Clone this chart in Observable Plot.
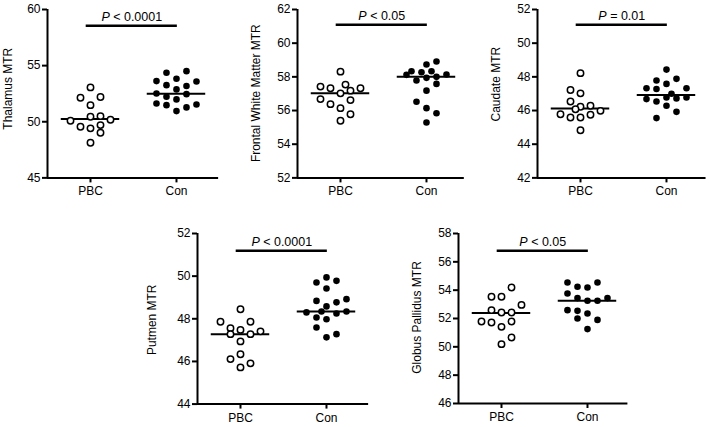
<!DOCTYPE html>
<html><head><meta charset="utf-8">
<script src="https://cdn.jsdelivr.net/npm/d3@7"></script>
<script src="https://cdn.jsdelivr.net/npm/@observablehq/plot@0.6"></script>
<style>
body{margin:0;background:#fff;}
#chart{position:relative;width:709px;height:427px;overflow:hidden;background:#fff;}
#chart svg{position:absolute;}
</style></head><body><div id="chart"></div>
<script>
// ---- data: [column offset within the swarm, MTR value] ----
const groups = ["PBC", "Con"];

const thalamusPBC = [[0,53.06],[-1,52.14],[1,52.2],[0,51.48],[-2,50.09],[0,50.45],[1,50.5],[2,50.18],[-1,49.55],[0,49.41],[1,49.7],[1,49.02],[0,48.13]];
const thalamusCon = [[-1,54.36],[1,54.51],[-2,53.62],[0,53.83],[2,53.59],[-1,53.26],[1,53.18],[0,52.88],[-2,52.52],[1,52.46],[-1,52.23],[0,51.99],[-2,51.63],[-1,51.48],[1,51.28],[2,51.54],[0,50.95]];
const thalamusMedians = [50.24, 52.49];

const frontalPBC = [[0,58.31],[-2,57.42],[-1,57.32],[0.5,57.54],[2,57.32],[0,57.02],[1,57.18],[-2,56.68],[-1,56.38],[1,56.62],[0,56.14],[1,55.78],[0,55.39]];
const frontalCon = [[0,58.73],[1,58.91],[-2,58.12],[-1.5,58.33],[-0.5,58.27],[0.5,58.33],[2,58.14],[1,58.0],[-1,57.78],[0,57.94],[1,57.58],[0,57.18],[-1,56.52],[0,56.14],[1,55.84],[0,55.29]];
const frontalMedians = [57.02, 58.0];

const caudatePBC = [[0,48.22],[-1,47.22],[0,47.02],[-1,46.54],[0,46.22],[1,46.28],[-0.5,46.08],[-2,45.78],[-1,45.59],[0,45.59],[1,45.75],[2,45.98],[0,44.83]];
const caudateCon = [[0,48.43],[-1,47.78],[1,47.88],[-2,47.32],[-1,47.28],[0,47.58],[2,47.32],[-2,46.68],[-1,46.54],[0,46.78],[0.5,47.0],[1,46.72],[2,46.78],[0,46.28],[1,45.92],[-1,45.55]];
const caudateMedians = [46.12, 46.92];

const putamenPBC = [[0,48.45],[-2,47.86],[1,47.86],[-1,47.56],[0,47.48],[2,47.41],[-1,47.28],[1,47.28],[0,46.94],[0,46.34],[-1,46.11],[1,45.91],[0,45.72]];
const putamenCon = [[0,49.94],[-1,49.7],[1,49.78],[0,49.42],[-1,48.84],[1,48.77],[2,48.92],[0,48.58],[-2,48.3],[-0.5,48.34],[1,48.25],[2,48.34],[-1,48.06],[0,47.98],[-1,47.59],[0,47.13],[1,47.28]];
const putamenMedians = [47.28, 48.34];

const globusPBC = [[1,54.19],[-1,53.53],[0,53.53],[2,52.96],[-1,52.59],[0,52.42],[1,52.42],[-2,51.79],[-1,51.72],[1,51.79],[0,51.41],[1,50.66],[0,50.19]];
const globusCon = [[-2,54.54],[-1,54.24],[0,54.19],[1,54.54],[-2,53.76],[-1,53.44],[0,53.25],[1,53.25],[2,53.44],[-2,52.59],[-1,52.54],[0,52.35],[-1,52.0],[1,51.9],[0,51.25]];
const globusMedians = [52.38, 53.25];

const yLabels = ["Thalamus MTR", "Frontal White Matter MTR", "Caudate MTR", "Putmen MTR", "Globus Pallidus MTR"];
const pTexts = ["P < 0.0001", "P < 0.05", "P = 0.01", "P < 0.0001", "P < 0.05"];
const bracketValues = [58.55, 61.1, 51.1, 51.19, 56.78];
const yDomains = [[45,60],[52,62],[42,52],[44,52],[46,58]];
const yTicks = [[45,50,55,60],[52,54,56,58,60,62],[42,44,46,48,50,52],[44,46,48,50,52],[46,48,50,52,54,56,58]];

// ---- layout (pixels) ----
const layout = [
  {axisX: 47,    top: 9.3,   bottom: 177.7, xmax: 1.49, labelDx: 39.7, labelDy: -5},
  {axisX: 296.7, top: 9.3,   bottom: 177.7, xmax: 1.44, labelDx: 41,   labelDy: -0.5},
  {axisX: 536.7, top: 9.3,   bottom: 177.7, xmax: 1.46, labelDx: 41.7, labelDy: -9.5},
  {axisX: 196.8, top: 232.7, bottom: 403.3, xmax: 1.49, labelDx: 45.8, labelDy: 1},
  {axisX: 458.3, top: 232.7, bottom: 402.7, xmax: 1.47, labelDx: 41,   labelDy: -1}
];
const datasets = [
  [thalamusPBC, thalamusCon, thalamusMedians],
  [frontalPBC, frontalCon, frontalMedians],
  [caudatePBC, caudateCon, caudateMedians],
  [putamenPBC, putamenCon, putamenMedians],
  [globusPBC, globusCon, globusMedians]
];

const unitPx = 86;          // px per category
const step = 10 / unitPx;   // column spacing within a swarm
const mL = 58, mR = 4, mT = 12, mB = 30;
const font = "'Liberation Sans', Arial, Helvetica, sans-serif";
const chart = document.getElementById("chart");

layout.forEach((L, k) => {
  const [pbc, con, med] = datasets[k];
  const dom = yDomains[k];
  const plotW = (L.xmax + 0.5) * unitPx;
  const plotH = L.bottom - L.top;
  const svg = Plot.plot({
    width: mL + plotW + mR,
    height: mT + plotH + mB,
    marginLeft: mL, marginRight: mR, marginTop: mT, marginBottom: mB,
    style: {fontFamily: font, fontSize: "12px", color: "#000", background: "transparent", overflow: "visible"},
    x: {domain: [-0.5, L.xmax]},
    y: {domain: dom},
    marks: [
      Plot.axisY({ticks: yTicks[k], tickSize: 5, tickPadding: 2, strokeWidth: 2, fontSize: 12, label: null}),
      Plot.axisX({ticks: [0, 1], tickFormat: i => groups[i], tickSize: 5, tickPadding: 4, strokeWidth: 2, fontSize: 12, label: null}),
      Plot.text([yLabels[k]], {frameAnchor: "left", rotate: -90, textAnchor: "middle", lineAnchor: "middle",
        dx: -L.labelDx, dy: L.labelDy, fontSize: 12, fill: "#000"}),
      Plot.ruleX([-0.5], {y1: dom[0], y2: dom[1], stroke: "#000", strokeWidth: 2}),
      Plot.ruleY([dom[0]], {x1: -0.5, x2: L.xmax, stroke: "#000", strokeWidth: 2}),
      Plot.ruleY(med, {y: d => d, x1: (d, i) => i - 0.34, x2: (d, i) => i + 0.34, stroke: "#000", strokeWidth: 2}),
      Plot.ruleY([bracketValues[k]], {x1: -0.05, x2: 1.01, stroke: "#000", strokeWidth: 2.5}),
      Plot.text([pTexts[k]], {x: () => 0.48, y: () => bracketValues[k], text: d => d, dy: -5, lineAnchor: "bottom", fontSize: 12.5, fill: "#000"}),
      Plot.dot(pbc, {x: d => 0 + d[0] * step, y: d => d[1], r: 3.2, stroke: "#000", strokeWidth: 1.5, fill: "#fff"}),
      Plot.dot(con, {x: d => 1 + d[0] * step, y: d => d[1], r: 3.3, fill: "#000", stroke: "none"})
    ]
  });
  svg.style.left = (L.axisX - mL) + "px";
  svg.style.top = (L.top - mT) + "px";
  // italic P in significance labels
  for (const t of svg.querySelectorAll("text")) {
    const s = t.textContent;
    if (/^P [<=]/.test(s) && t.children.length === 0) {
      t.textContent = "";
      const a = document.createElementNS("http://www.w3.org/2000/svg", "tspan");
      a.setAttribute("font-style", "italic");
      a.textContent = "P";
      const b = document.createElementNS("http://www.w3.org/2000/svg", "tspan");
      b.textContent = s.slice(1);
      t.append(a, b);
    }
  }
  chart.appendChild(svg);
});
</script></body></html>
